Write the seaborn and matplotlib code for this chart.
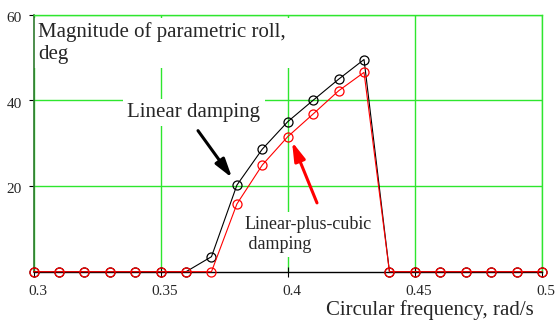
import matplotlib
matplotlib.use("Agg")
import matplotlib.pyplot as plt
import matplotlib.transforms as mtransforms
import seaborn as sns
import pandas as pd

# Circular frequency sweep, rad/s
frequency = [0.30, 0.31, 0.32, 0.33, 0.34, 0.35, 0.36, 0.37, 0.38, 0.39, 0.40,
             0.41, 0.42, 0.43, 0.44, 0.45, 0.46, 0.47, 0.48, 0.49, 0.50]
# Parametric roll magnitude, deg
roll_linear = [0, 0, 0, 0, 0, 0, 0, 3.5, 20.2, 28.6, 35.0,
               40.0, 44.9, 49.5, 0, 0, 0, 0, 0, 0, 0]
roll_cubic = [0, 0, 0, 0, 0, 0, 0, 0, 15.8, 24.9, 31.5,
              36.8, 42.2, 46.5, 0, 0, 0, 0, 0, 0, 0]

x_ticks = [0.3, 0.35, 0.4, 0.45, 0.5]
x_tick_labels = ["0.3", "0.35", "0.4", "0.45", "0.5"]
y_ticks = [20, 40, 60]
y_tick_labels = ["20", "40", "60"]

df = pd.DataFrame({"freq": frequency, "linear": roll_linear, "cubic": roll_cubic})

sns.set_style("white")
plt.rcParams["font.family"] = ["Liberation Serif", "DejaVu Serif"]

W, H = 555, 322
fig = plt.figure(figsize=(W / 100, H / 100), dpi=100)
x0, x1, y0, y1 = 33.5, 542, 14.5, 271.7
ax = fig.add_axes([x0 / W, 1 - y1 / H, (x1 - x0) / W, (y1 - y0) / H])

grid_green = "#2ee62e"
marker_kw = dict(marker="o", markersize=6.5, markerfacecolor="none",
                 markeredgewidth=0.9, linewidth=0.8, clip_on=False)

sns.lineplot(data=df, x="freq", y="linear", ax=ax, color="black",
             markeredgecolor="black", zorder=3, **marker_kw)
sns.lineplot(data=df, x="freq", y="cubic", ax=ax, color="red",
             markeredgecolor="red", zorder=4, **marker_kw)

ax.set_xlim(0.3, 0.5)
ax.set_ylim(0, 60)
ax.set_xlabel("")
ax.set_ylabel("")

ax.set_xticks(x_ticks)
ax.set_xticklabels(x_tick_labels, fontsize=11)
ax.set_yticks(y_ticks)
ax.set_yticklabels(y_tick_labels, fontsize=11)
ax.tick_params(axis="x", direction="inout", length=7, width=0.8, color="black", pad=6)
ax.tick_params(axis="y", direction="out", length=3.5, width=0.8, color="black", pad=5)
ax.tick_params(left=True, bottom=True)

# shift x tick labels slightly right, y tick labels slightly down
x_off = mtransforms.ScaledTranslation(4 / 100, 0, fig.dpi_scale_trans)
for lbl in ax.get_xticklabels():
    lbl.set_transform(lbl.get_transform() + x_off)
y_off = mtransforms.ScaledTranslation(0, -2.5 / 100, fig.dpi_scale_trans)
for lbl in ax.get_yticklabels():
    lbl.set_transform(lbl.get_transform() + y_off)

ax.set_axisbelow(True)
ax.grid(True, color=grid_green, linewidth=1.0)

for side in ["top", "right"]:
    ax.spines[side].set_color(grid_green)
    ax.spines[side].set_linewidth(1.0)
ax.spines["left"].set_color("#2f7a2f")
ax.spines["left"].set_linewidth(1.2)
ax.spines["bottom"].set_color("black")
ax.spines["bottom"].set_linewidth(1.0)

# white-boxed labels sit above the grid but below the spines
box = dict(facecolor="white", edgecolor="none", pad=3)

ax.text(38 / W, 1 - 22 / H, "Magnitude of parametric roll,\ndeg",
        transform=fig.transFigure, fontsize=15, ha="left", va="top",
        linespacing=1.22, bbox=box, zorder=2)
ax.text(0.3631, 37.1, "Linear damping", fontsize=15, ha="center",
        va="center", bbox=box, zorder=2)
ax.text(0.3828, 8.7, "Linear-plus-cubic\n damping", fontsize=13, ha="left",
        va="center", linespacing=1.25, bbox=box, zorder=2)

fig.text(534 / W, 1 - 310 / H, "Circular frequency, rad/s", fontsize=15,
         ha="right", va="center")

ax.annotate("", xy=(0.3781, 21.9), xytext=(0.3647, 32.9),
            arrowprops=dict(arrowstyle="-|>,head_length=0.75,head_width=0.22",
                            color="black", lw=2.2, shrinkA=0, shrinkB=0,
                            mutation_scale=15), zorder=6)
ax.annotate("", xy=(0.4017, 30.3), xytext=(0.4115, 16.05),
            arrowprops=dict(arrowstyle="-|>,head_length=0.75,head_width=0.22",
                            color="red", lw=2.2, shrinkA=0, shrinkB=0,
                            mutation_scale=15), zorder=6)

fig.savefig("out.png", dpi=100)
